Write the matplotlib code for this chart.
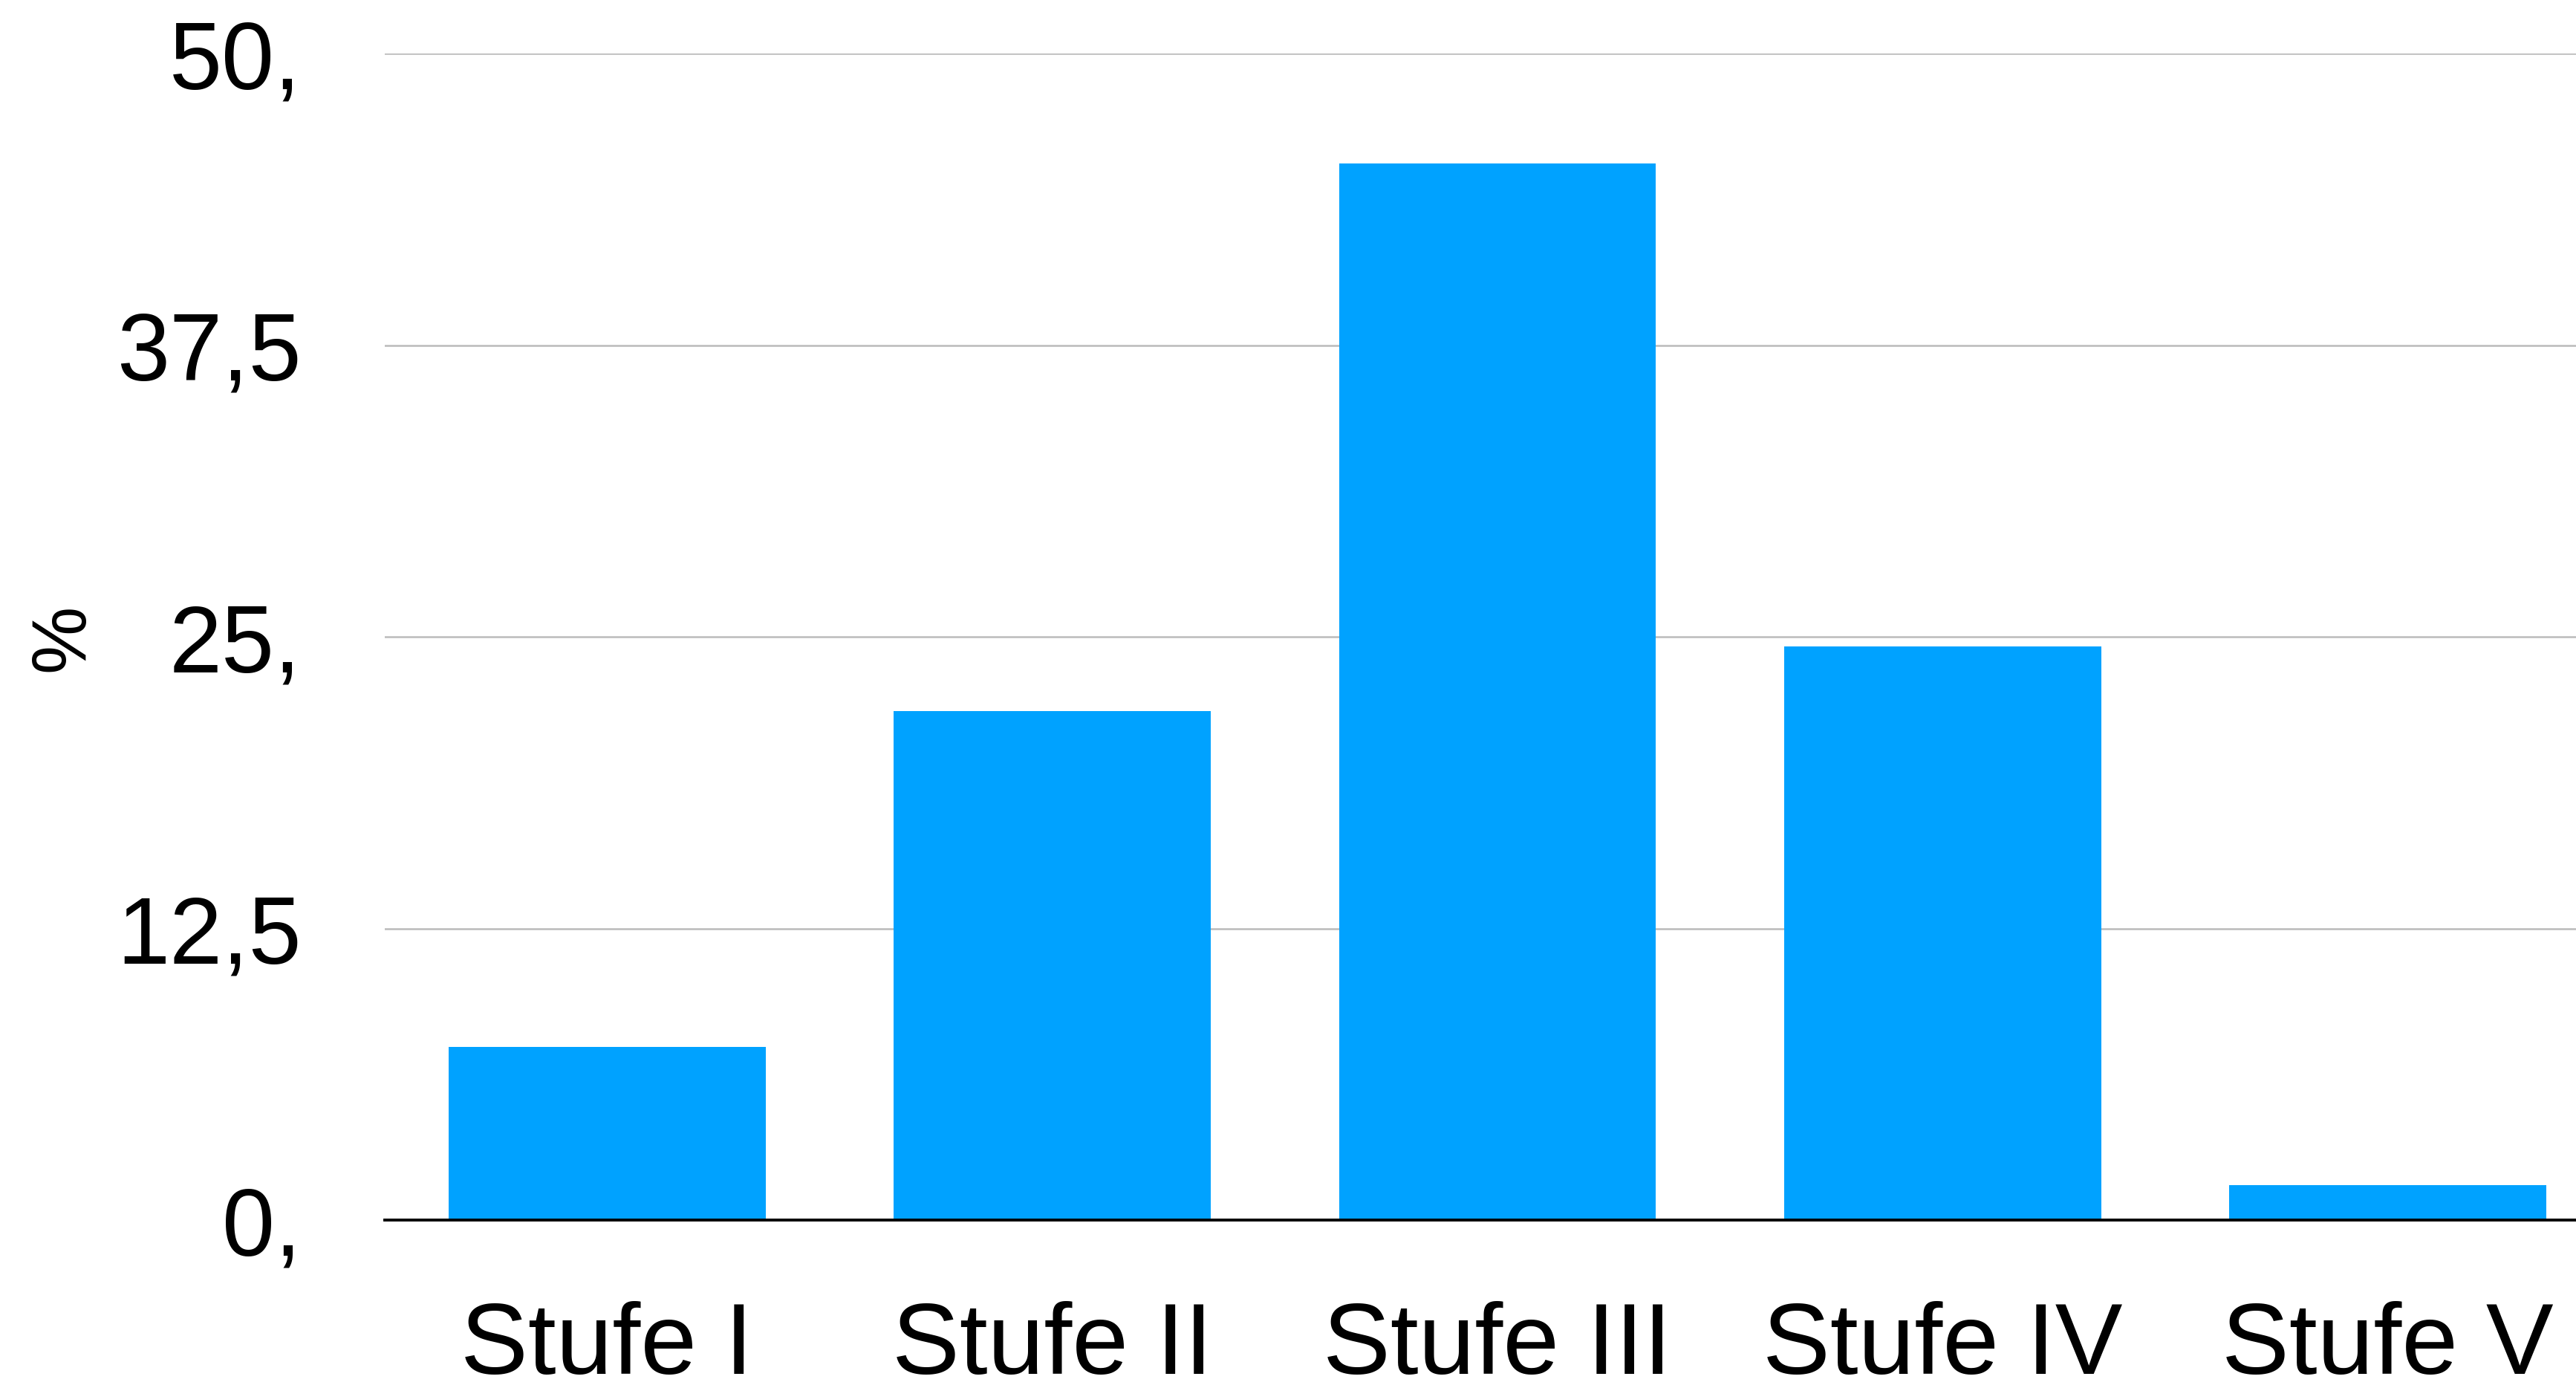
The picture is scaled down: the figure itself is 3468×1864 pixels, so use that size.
import matplotlib
matplotlib.use("Agg")
import matplotlib.pyplot as plt

categories = ["Stufe I", "Stufe II", "Stufe III", "Stufe IV", "Stufe V"]
values = [7.41, 21.8, 45.29, 24.59, 1.49]
y_ticks = [0, 12.5, 25, 37.5, 50]
y_tick_labels = ["0,", "12,5", "25,", "37,5", "50,"]

plt.rcParams["font.family"] = ["Liberation Sans", "DejaVu Sans"]

fig = plt.figure(figsize=(34.68, 18.65), dpi=100)
ax = fig.add_axes([518 / 3468, 1 - 1643 / 1865, 1 - 518 / 3468, (1643 - 73) / 1865])

x = list(range(len(categories)))
ax.bar(x, values, width=0.712, color="#00A2FF", zorder=2)

ax.set_xlim(-0.4995, 4.4228)
ax.set_ylim(0, 50)
ax.set_yticks(y_ticks)
ax.set_yticklabels(y_tick_labels, fontsize=92)
ax.set_xticks(x)
ax.set_xticklabels(categories, fontsize=98)

ax.tick_params(axis="y", length=0, pad=81)
ax.tick_params(axis="x", length=0, pad=78)

for s in ("left", "right", "top"):
    ax.spines[s].set_visible(False)
ax.spines["bottom"].set_color("black")
ax.spines["bottom"].set_linewidth(2.8)
ax.spines["bottom"].set_zorder(3)

ax.yaxis.grid(True, color="#BBBBBB", linewidth=1.8, zorder=0)
ax.set_axisbelow(True)

fig.text(86 / 3468, 1 - 858 / 1865, "%", rotation=90, fontsize=74,
         ha="center", va="center")

fig.savefig("out.png", dpi=100, facecolor="white")
